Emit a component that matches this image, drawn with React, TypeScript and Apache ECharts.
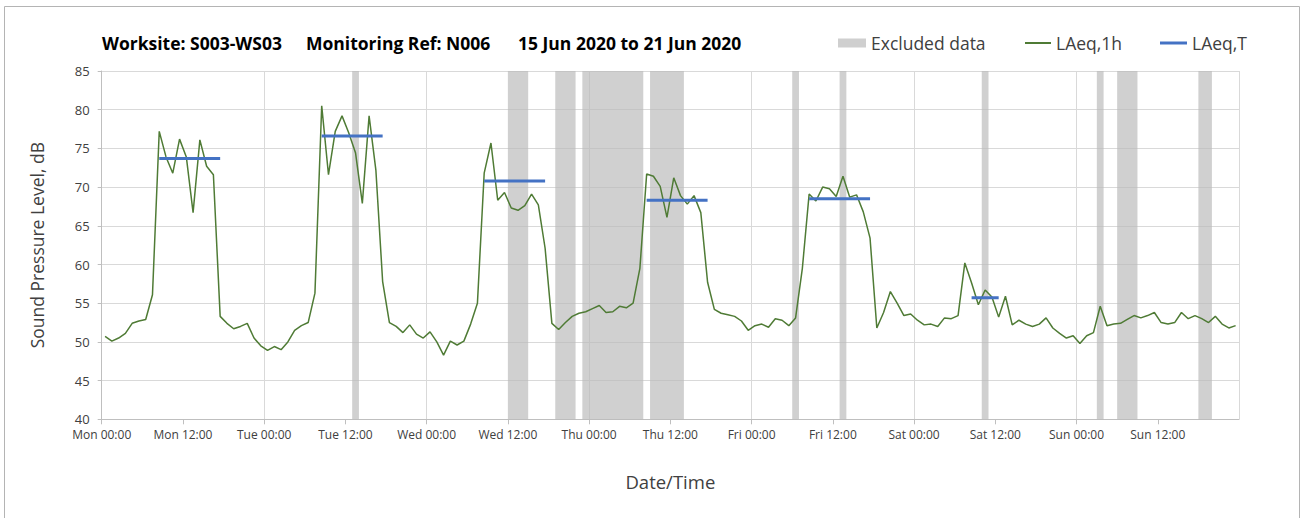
import React, { useEffect, useRef } from "react";
import * as echarts from "echarts";

// Hourly LAeq,1h values, Mon 00:00 .. Sun 23:00 (168 hours)
const laeq1h: number[] = [
  50.7, 50.1, 50.5, 51.1, 52.4, 52.7, 52.9, 56.1, 77.2, 73.9, 71.8, 76.2, 73.9, 66.7, 76.1, 72.7, 71.6, 53.3, 52.4, 51.7, 52.0, 52.4, 50.5, 49.5,
  48.9, 49.4, 49.0, 50.0, 51.5, 52.1, 52.5, 56.3, 80.5, 71.6, 77.2, 79.2, 77.0, 74.4, 67.9, 79.2, 72.2, 57.8, 52.5, 52.0, 51.2, 52.2, 51.0, 50.5,
  51.3, 50.0, 48.3, 50.1, 49.6, 50.1, 52.3, 55.0, 71.8, 75.7, 68.3, 69.3, 67.3, 67.0, 67.6, 69.1, 67.7, 62.1, 52.4, 51.6, 52.5, 53.3, 53.7, 53.9,
  54.3, 54.7, 53.8, 53.9, 54.6, 54.4, 55.0, 59.5, 71.7, 71.4, 70.1, 66.1, 71.2, 68.9, 67.8, 68.9, 66.7, 57.7, 54.2, 53.7, 53.5, 53.3, 52.7, 51.5,
  52.1, 52.3, 51.9, 53.0, 52.8, 52.1, 53.1, 59.5, 69.1, 68.2, 70.0, 69.8, 68.8, 71.4, 68.7, 69.0, 66.8, 63.4, 51.8, 53.8, 56.5, 55.0, 53.4, 53.6,
  52.8, 52.2, 52.3, 52.0, 53.1, 53.0, 53.4, 60.2, 57.6, 54.8, 56.7, 55.8, 53.2, 55.9, 52.2, 52.8, 52.3, 52.0, 52.3, 53.1, 51.8, 51.1, 50.5, 50.8,
  49.8, 50.8, 51.2, 54.6, 52.1, 52.3, 52.4, 52.9, 53.4, 53.1, 53.4, 53.8, 52.5, 52.3, 52.5, 53.8, 53.0, 53.4, 53.0, 52.5, 53.3, 52.3, 51.8, 52.1,
];

// LAeq,T periods (hour index of first and last hour) and levels
const periodStart: number[] = [8, 32, 56, 80, 104, 128];
const periodEnd: number[] = [17, 41, 65, 89, 113, 132];
const periodLevel: number[] = [73.7, 76.6, 70.8, 68.3, 68.5, 55.7];

// Excluded data ranges, in hours from Mon 00:00
const excludedStart: number[] = [37, 60, 67, 71, 81, 102, 109, 130, 147, 150, 162];
const excludedEnd: number[] = [38, 63, 70, 80, 86, 103, 110, 131, 148, 153, 164];

const dayNames: string[] = ["Mon", "Tue", "Wed", "Thu", "Fri", "Sat", "Sun"];
const titleParts: string[] = ["Worksite: S003-WS03", "Monitoring Ref: N006", "15 Jun 2020 to 21 Jun 2020"];

const Y_MIN = 40;
const Y_MAX = 85;
const FONT = "'Open Sans', 'Noto Sans', sans-serif";

export default function App() {
  const ref = useRef<HTMLDivElement>(null);

  useEffect(() => {
    if (!ref.current) return;
    const chart = echarts.init(ref.current, undefined, { renderer: "svg" });

    const lineData = laeq1h.map((v, i) => [i + 0.5, v]);
    const tData: any[] = [];
    periodStart.forEach((s, k) => {
      if (k > 0) tData.push([s, "-"]);
      tData.push([s + 0.5, periodLevel[k]]);
      tData.push([periodEnd[k] + 0.5, periodLevel[k]]);
    });
    const exData = excludedStart.map((s, k) => [s, excludedEnd[k]]);

    const legendText = { fontSize: 17.5, color: "#404040", fontFamily: FONT };

    const option: any = {
      animation: false,
      textStyle: { fontFamily: FONT },
      grid: { left: 101.7, right: 64, top: 71, bottom: 98.7, containLabel: false },
      graphic: [
        {
          type: "rect",
          shape: { x: 4.5, y: 6.5, width: 1295, height: 530 },
          style: { fill: "none", stroke: "#b4b4b4", lineWidth: 1 },
          silent: true,
        },
        ...titleParts.map((t, k) => ({
          type: "text",
          left: [102, 306, 518][k],
          top: 34,
          style: { text: t, font: `bold 17.5px ${FONT}`, fill: "#000000" },
        })),
      ],
      legend: [
        {
          left: 833,
          top: 29,
          itemWidth: 28,
          itemHeight: 9,
          itemGap: 5,
          data: [{ name: "Excluded data", icon: "rect" }],
          textStyle: legendText,
        },
        {
          left: 1020,
          top: 29,
          itemWidth: 26,
          itemHeight: 2,
          data: [{ name: "LAeq,1h", icon: "rect" }],
          textStyle: legendText,
        },
        {
          left: 1155,
          top: 29,
          itemWidth: 27,
          itemHeight: 3,
          data: [{ name: "LAeq,T", icon: "rect" }],
          textStyle: legendText,
        },
      ],
      xAxis: [
        {
          type: "value",
          min: 0,
          max: 168,
          interval: 12,
          name: "Date/Time",
          nameLocation: "middle",
          nameGap: 53,
          nameTextStyle: { fontSize: 18.5, color: "#404040", fontFamily: FONT },
          axisLine: { show: true, lineStyle: { color: "#bfbfbf" } },
          axisTick: { show: true, length: 5, lineStyle: { color: "#bfbfbf" } },
          axisLabel: {
            color: "#404040",
            fontSize: 12,
            margin: 9,
            showMaxLabel: false,
            formatter: (v: number) => {
              const d = Math.floor(v / 24);
              if (d >= dayNames.length) return "";
              return dayNames[d] + (v % 24 === 0 ? " 00:00" : " 12:00");
            },
          },
          splitLine: { show: false },
        },
        {
          type: "value",
          min: 0,
          max: 168,
          interval: 24,
          position: "bottom",
          axisLine: { show: false },
          axisTick: { show: false },
          axisLabel: { show: false },
          splitLine: { show: true, lineStyle: { color: "#d9d9d9", width: 1 } },
        },
      ],
      yAxis: {
        type: "value",
        min: Y_MIN,
        max: Y_MAX,
        interval: 5,
        name: "Sound Pressure Level, dB",
        nameLocation: "middle",
        nameGap: 56,
        nameRotate: 90,
        nameTextStyle: { fontSize: 17.5, color: "#404040", fontFamily: FONT },
        axisLine: { show: true, lineStyle: { color: "#bfbfbf" } },
        axisTick: { show: true, length: 4, lineStyle: { color: "#bfbfbf" } },
        axisLabel: { color: "#404040", fontSize: 13, margin: 12 },
        splitLine: { show: true, lineStyle: { color: "#d9d9d9", width: 1 } },
      },
      series: [
        {
          name: "Excluded data",
          type: "custom",
          xAxisIndex: 0,
          itemStyle: { color: "#cfcfcf" },
          data: exData,
          encode: { x: [0, 1] },
          renderItem: (params: any, api: any) => {
            const p0 = api.coord([api.value(0), Y_MAX]);
            const p1 = api.coord([api.value(1), Y_MIN]);
            return {
              type: "rect",
              shape: { x: p0[0], y: p0[1], width: p1[0] - p0[0], height: p1[1] - p0[1] },
              style: { fill: "rgba(185,185,185,0.68)" },
            };
          },
          z: 1,
        },
        {
          name: "LAeq,1h",
          type: "line",
          xAxisIndex: 0,
          data: lineData,
          symbol: "none",
          showSymbol: false,
          lineStyle: { color: "#4f7b35", width: 1.5 },
          itemStyle: { color: "#4f7b35" },
          z: 3,
        },
        {
          name: "LAeq,T",
          type: "line",
          xAxisIndex: 0,
          data: tData,
          symbol: "none",
          showSymbol: false,
          connectNulls: false,
          lineStyle: { color: "#4472c4", width: 3 },
          itemStyle: { color: "#4472c4" },
          z: 4,
        },
      ],
    };

    chart.setOption(option);
    return () => chart.dispose();
  }, []);

  return (
    <div
      ref={ref}
      style={{ position: "absolute", left: 0, top: 0, width: 1303, height: 518, background: "#ffffff" }}
    />
  );
}
